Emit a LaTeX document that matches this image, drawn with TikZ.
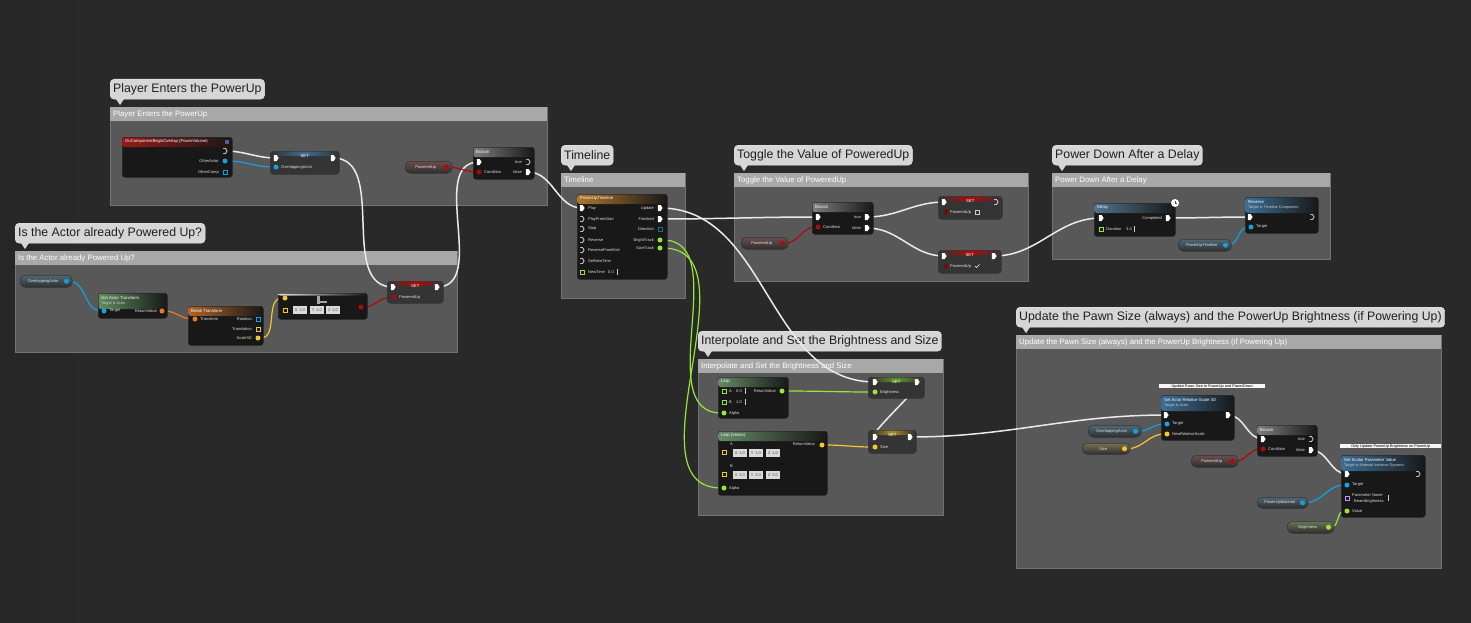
\documentclass[tikz,border=0pt]{standalone}
\usepackage{fontspec}
\setmainfont{Liberation Sans}
\usetikzlibrary{calc}
\pgfdeclarelayer{back}\pgfdeclarelayer{wire}
\pgfsetlayers{back,wire,main}
\definecolor{bgc}{RGB}{41,41,41}
\definecolor{grpbody}{RGB}{88,88,88}
\definecolor{grphead}{RGB}{168,168,168}
\definecolor{bubblec}{RGB}{214,214,214}
\definecolor{nodebody}{RGB}{24,24,24}
\definecolor{setbody}{RGB}{52,52,52}
\definecolor{pilltop}{RGB}{92,92,92}
\definecolor{pillbot}{RGB}{46,46,46}
\definecolor{pblue}{RGB}{20,160,225}
\definecolor{pred}{RGB}{175,10,10}
\definecolor{porange}{RGB}{235,120,35}
\definecolor{pyellow}{RGB}{245,200,40}
\definecolor{pgreen}{RGB}{150,230,60}
\definecolor{ppurple}{RGB}{190,150,255}
\definecolor{pteal}{RGB}{20,120,130}
\definecolor{hred}{RGB}{150,25,25}
\definecolor{hblue}{RGB}{60,110,150}
\definecolor{hgrey}{RGB}{125,125,125}
\definecolor{hgreen}{RGB}{95,140,95}
\definecolor{horange}{RGB}{175,100,40}
\definecolor{htl}{RGB}{175,118,45}
\definecolor{boxc}{RGB}{218,218,218}
\definecolor{wirec}{RGB}{235,235,235}
\newcounter{lbc}
\tikzset{
  bubble/.style={fill=bubblec, draw=white!85!gray, rounded corners=4pt, text=black!88, anchor=north west,
    font=\fontsize{12.3}{14}\selectfont, inner xsep=3pt, inner ysep=0pt, minimum height=20pt},
  grpbox/.style={fill=grpbody, draw=black!55, line width=0.6pt, anchor=north west, inner sep=0},
  grptxt/.style={font=\fontsize{7.8}{9}\selectfont, text=white, anchor=west, inner sep=0},
  bpnode/.style={draw=black!85, fill=nodebody, rounded corners=2.5pt, anchor=north west, inner sep=0, line width=0.5pt},
  setnode/.style={draw=black!80, fill=setbody, rounded corners=3pt, anchor=north west, inner sep=0, line width=0.5pt},
  getn/.style={draw=black!80, rounded corners=5pt, anchor=north west, inner sep=0, line width=0.5pt},
  ttl/.style={font=\fontsize{4.2}{5}\selectfont, text=white, inner sep=0},
  sub/.style={font=\fontsize{3.8}{4.5}\selectfont, text=white!60!gray, inner sep=0, anchor=west},
  ptxt/.style={font=\fontsize{4}{5}\selectfont, text=white!88!black, inner sep=0},
  dpinf/.style={circle, inner sep=0, minimum size=5pt},
  dpinho/.style={rectangle, draw, line width=0.6pt, inner sep=0, minimum size=3.6pt, fill=none},
  vbox/.style={fill=boxc, text=black!70, font=\fontsize{4}{5}\selectfont, inner sep=0, minimum width=13.5pt, minimum height=7.5pt, anchor=west},
  cstrip/.style={fill=white!92!gray, text=black, font=\fontsize{3.8}{4.5}\selectfont, inner xsep=1pt, inner ysep=0.6pt, anchor=north west, align=left, text depth=0pt},
  xw/.style={draw=wirec, line width=1.5pt, out=0, in=180},
  dw/.style={draw=#1, line width=1.2pt, out=0, in=180},
  pics/xpf/.style={code={\fill[white] (-2.2,-3) -- (0.6,-3) -- (2.6,0) -- (0.6,3) -- (-2.2,3) -- cycle;}},
  pics/xph/.style={code={\draw[white, line width=0.6pt, line join=round] (-1.8,-2.6) -- (0.4,-2.6) -- (2.2,0) -- (0.4,2.6) -- (-1.8,2.6);}}
}
\newcommand\xpf[3]{\coordinate (#1) at (#2,#3); \pic at (#1) {xpf};}
\newcommand\xph[3]{\coordinate (#1) at (#2,#3); \pic at (#1) {xph};}
\newcommand\dpin[4]{\node[dpinf, fill=#4] (#1) at (#2,#3) {};}
\newcommand\dpinh[4]{\node[dpinho, draw=#4] (#1) at (#2,#3) {};}
\newcommand\lbl[4][west]{\stepcounter{lbc}\node[ptxt, anchor=#1] (lb\arabic{lbc}) at (#2,#3) {#4};}
\newcommand\vb[4]{\node[vbox] (#1) at (#2,#3) {#4};}
\newcommand\cur[2]{\draw[white!80!black, line width=0.4pt] (#1,#2-3) -- (#1,#2+3);}
\newcommand\grp[6]{%
  \node[bubble] (#1-b) at (#2,#3-28) {#6};
  \fill[bubblec] ([xshift=6pt,yshift=0.3pt]#1-b.south west) -- ++(8,0) -- ++(-4,6) -- cycle;
  \node[grpbox, minimum width={#4-#2}, minimum height={#5-#3}] (#1) at (#2,#3) {};
  \fill[grphead] ([xshift=0.3pt,yshift=-0.3pt]#1.north west) rectangle ([xshift=-0.3pt,yshift=-14pt]#1.north east);
  \node[grptxt] (#1-h) at ([xshift=3pt,yshift=-7pt]#1.north west) {#6};
}
\newcommand\bpn[8][10]{%
  \node[bpnode, minimum width={#5-#3}, minimum height={#6-#4}] (#2) at (#3,#4) {};
  \shade[left color=#7, right color=nodebody, rounded corners=2pt] ([xshift=0.6pt,yshift=-0.6pt]#2.north west) rectangle ([xshift=-0.6pt,yshift=-#1pt]#2.north east);
  \node[ttl, anchor=west] (#2-t) at ([xshift=3pt,yshift=-4.8pt]#2.north west) {#8};
}
\newcommand\setn[6]{%
  \node[setnode, minimum width={#4-#2}, minimum height={#5-#3}] (#1) at (#2,#3) {};
  \shade[left color=setbody, right color=setbody, middle color=#6, rounded corners=1.5pt] ([xshift=2pt,yshift=-0.6pt]#1.north west) rectangle ([xshift=-2pt,yshift=-5pt]#1.north east);
  \node[ttl] (#1-t) at ([yshift=-5.5pt]#1.north) {SET};
}
\newcommand\getv[8]{%
  \node[getn, minimum width={#4-#2}, minimum height={#5-#3}, top color=#6!18!pilltop, bottom color=pillbot] (#1) at (#2,#3) {};
  \node[ptxt] (#1-t) at ($(#1.center)+(-3,0)$) {#7};
  \node[dpinf, fill=#8] (#1-p) at ([xshift=-6pt]#1.east) {};
}
\begin{document}
\begin{tikzpicture}[x=1pt,y=-1pt]
\useasboundingbox (0,0) rectangle (1471,623);
\begin{pgfonlayer}{back}
\fill[bgc] (0,0) rectangle (1471,623);
\shade[left color=black!85!white, right color=bgc] (0,0) rectangle (90,623);
\grp{g1}{110}{107}{547}{205}{Player Enters the PowerUp}
\grp{g2}{15}{251}{457}{352}{Is the Actor already Powered Up?}
\grp{g3}{561}{173}{685}{298}{Timeline}
\grp{g4}{734}{173}{1028}{281}{Toggle the Value of PoweredUp}
\grp{g5}{1052}{173}{1330}{259}{Power Down After a Delay}
\grp{g6}{698}{359}{943}{515}{Interpolate and Set the Brightness and Size}
\grp{g7}{1016}{335}{1441}{568}{Update the Pawn Size (always) and the PowerUp Brightness (if Powering Up)}
\end{pgfonlayer}

% ---------- group 1
\bpn{ov}{122}{137}{232}{177}{hred}{OnComponentBeginOverlap (PowerVolume)}
\node[fill=ppurple!55!black, minimum size=3.5pt, inner sep=0] (ov-i) at (227,142) {};
\xph{ov-x}{225}{151}
\dpin{ov-oa}{225}{161}{pblue}\lbl[east]{219}{161}{OtherActor}
\dpinh{ov-oc}{225}{172}{pblue}\lbl[east]{219}{172}{OtherComp}
\setn{s1}{270}{151}{339}{174}{hblue}
\xpf{s1-i}{276}{158}\xpf{s1-o}{333}{158}
\dpin{s1-p}{276}{167}{pblue}\lbl{281}{167}{OverlappingActor}
\getv{g1pu}{405}{161}{452}{173}{pred}{PoweredUp}{pred}
\bpn{br1}{473}{147}{534}{179}{hgrey}{Branch}
\xpf{br1-i}{479}{162}\dpin{br1-c}{479}{172}{pred}\lbl{484}{172}{Condition}
\xph{br1-t}{528}{162}\lbl[east]{522}{162}{true}
\xpf{br1-f}{528}{172}\lbl[east]{522}{172}{false}

% ---------- group 2
\getv{g2oa}{20}{275}{72}{287}{pblue}{OverlappingActor}{pblue}
\bpn[16]{gat}{98}{293}{167}{318}{hgreen}{Get Actor Transform}
\node[sub] (gat-s) at ([xshift=3pt,yshift=-10.5pt]gat.north west) {Target is Actor};
\dpin{gat-t}{104}{311}{pblue}\lbl{109}{311}{Target}
\dpin{gat-r}{162}{311}{porange}\lbl[east]{157}{311}{ReturnValue}
\bpn{bt}{188}{306}{263}{345}{horange}{Break Transform}
\dpin{bt-t}{195}{319}{porange}\lbl{200}{319}{Transform}
\dpinh{bt-r}{258}{319}{pblue}\lbl[east]{252}{319}{Rotation}
\dpinh{bt-l}{258}{329}{pyellow}\lbl[east]{252}{329}{Translation}
\dpin{bt-s}{258}{338}{pyellow}\lbl[east]{252}{338}{Scale3D}
\bpn[2.5]{eq}{278}{293}{367}{319}{white!75!gray}{}
\fill[gray!70] (317,296) rectangle (320,304);
\fill[gray!70] (320,301) rectangle (327,303);
\dpin{eq-a}{285}{298}{pyellow}
\dpinh{eq-b}{285}{310}{pyellow}
\vb{eq-x}{293}{310}{X\, 1.0}\vb{eq-y}{310}{310}{Y\, 1.0}\vb{eq-z}{326}{310}{Z\, 1.0}
\dpin{eq-o}{361}{307}{pred}
\setn{s2}{387}{281}{443}{303}{pred}
\xpf{s2-i}{393}{287}\xpf{s2-o}{437}{287}
\dpin{s2-p}{394}{297}{pred}\lbl{399}{297}{PoweredUp}

% ---------- timeline
\bpn{tl}{577}{194}{667}{279}{htl}{PowerUpTimeline}
\xpf{tl-play}{582}{208}\lbl{588}{208}{Play}
\xph{tl-pfs}{582}{219}\lbl{588}{219}{PlayFromStart}
\xph{tl-stop}{582}{229}\lbl{588}{229}{Stop}
\xph{tl-rev}{582}{240}\lbl{588}{240}{Reverse}
\xph{tl-rfe}{582}{250}\lbl{588}{250}{ReverseFromEnd}
\xph{tl-snt}{582}{261}\lbl{588}{261}{SetNewTime}
\dpinh{tl-nt}{582}{272}{pgreen}\lbl{588}{272}{NewTime}\lbl{608}{272}{0.0}\cur{617}{272}
\xpf{tl-up}{660}{208}\lbl[east]{654}{208}{Update}
\xpf{tl-fin}{660}{219}\lbl[east]{654}{219}{Finished}
\dpinh{tl-dir}{660}{229}{pteal}\lbl[east]{654}{229}{Direction}
\dpin{tl-bt}{660}{240}{pgreen}\lbl[east]{654}{240}{BrightTrack}
\dpin{tl-st}{660}{248}{pgreen}\lbl[east]{654}{248}{SizeTrack}

% ---------- toggle
\bpn{br2}{812}{202}{873}{234}{hgrey}{Branch}
\xpf{br2-i}{818}{217}\dpin{br2-c}{818}{227}{pred}\lbl{823}{227}{Condition}
\xpf{br2-t}{867}{217}\lbl[east]{861}{217}{true}
\xpf{br2-f}{867}{228}\lbl[east]{861}{228}{false}
\getv{g4pu}{741}{237}{788}{249}{pred}{PoweredUp}{pred}
\setn{s3}{938}{196}{1002}{219}{pred}
\xpf{s3-i}{944}{202}\xph{s3-o}{996}{202}
\dpin{s3-p}{946}{212}{pred!70!black}\lbl{950}{212}{PoweredUp}
\node[draw=white!60!gray, line width=0.4pt, minimum size=3.5pt, inner sep=0] (s3-cb) at (977,212) {};
\setn{s4}{938}{250}{1001}{273}{pred}
\xpf{s4-i}{944}{256}\xpf{s4-o}{994}{256}
\dpin{s4-p}{946}{266}{pred!70!black}\lbl{950}{266}{PoweredUp}
\draw[white!80, line width=0.5pt] (975,266) -- (976.5,267.5) -- (979.5,264.3);

% ---------- power down
\bpn{dl}{1094}{203}{1175}{236}{hblue!70!gray}{Delay}
\xpf{dl-i}{1101}{218}\xpf{dl-o}{1168}{218}\lbl[east]{1162}{218}{Completed}
\dpinh{dl-d}{1101}{229}{pgreen}\lbl{1106}{229}{Duration}\lbl{1126}{229}{3.0}\cur{1134}{229}
\node[circle, fill=white, minimum size=8pt, inner sep=0] (dl-clk) at (1175,203) {};
\draw[black!70, line width=0.4pt] (dl-clk.center) -- ++(0,-2.5) (dl-clk.center) -- ++(2,0);
\bpn[16]{rv}{1245}{197}{1318}{233}{hblue}{Reverse}
\node[sub] (rv-s) at ([xshift=3pt,yshift=-10.5pt]rv.north west) {Target is Timeline Component};
\xpf{rv-i}{1250}{217}\xph{rv-o}{1312}{217}
\dpin{rv-t}{1251}{227}{pblue}\lbl{1256}{227}{Target}
\getv{g5tl}{1178}{239}{1231}{251}{pblue}{PowerUpTimeline}{pblue}

% ---------- interpolate
\bpn{lp}{718}{377}{788}{418}{hgreen!80!gray}{Lerp}
\dpinh{lp-a}{724}{391}{pgreen}\lbl{729}{391}{A}\lbl{736}{391}{0.0}\cur{745}{391}
\dpinh{lp-b}{724}{402}{pgreen}\lbl{729}{402}{B}\lbl{736}{402}{1.0}\cur{745}{402}
\dpin{lp-al}{724}{413}{pgreen}\lbl{729}{413}{Alpha}
\dpin{lp-r}{782}{391}{pgreen}\lbl[east]{776}{391}{ReturnValue}
\bpn{lv}{718}{431}{827}{495}{hgreen!80!gray}{Lerp (Vector)}
\lbl{730}{444}{A}
\dpinh{lv-a}{724}{452}{pyellow}
\vb{lv-ax}{733}{453}{X\, 1.0}\vb{lv-ay}{749}{453}{Y\, 1.0}\vb{lv-az}{766}{453}{Z\, 1.0}
\lbl{730}{466}{B}
\dpinh{lv-b}{724}{474}{pyellow}
\vb{lv-bx}{733}{475}{X\, 2.0}\vb{lv-by}{749}{475}{Y\, 2.0}\vb{lv-bz}{766}{475}{Z\, 2.0}
\dpin{lv-al}{724}{488}{pgreen}\lbl{729}{488}{Alpha}
\dpin{lv-r}{822}{445}{pyellow}\lbl[east]{815}{444}{ReturnValue}
\setn{s5}{868}{377}{924}{398}{pgreen!65!black}
\xpf{s5-i}{875}{382}\xpf{s5-o}{917}{382}
\dpin{s5-p}{875}{392}{pgreen}\lbl{880}{392}{Brightness}
\setn{s6}{868}{430}{916}{453}{pyellow!70!black}
\xpf{s6-i}{875}{437}\xpf{s6-o}{910}{437}
\dpin{s6-p}{875}{447}{pyellow}\lbl{880}{447}{Size}

% ---------- update
\node[cstrip, minimum width=106pt] (c1) at (1159,384) {Update Pawn Size to PowerUp and PowerDown};
\bpn[16]{sa}{1161}{395}{1234}{440}{hblue}{Set Actor Relative Scale 3D}
\node[sub] (sa-s) at ([xshift=3pt,yshift=-10.5pt]sa.north west) {Target is Actor};
\xpf{sa-i}{1166}{415}\xpf{sa-o}{1228}{415}
\dpin{sa-t}{1167}{424}{pblue}\lbl{1172}{424}{Target}
\dpin{sa-n}{1167}{434}{pyellow}\lbl{1172}{434}{NewRelativeScale}
\getv{g7oa}{1088}{425}{1141}{437}{pblue}{OverlappingActor}{pblue}
\getv{g7sz}{1082}{443}{1130}{454}{pyellow}{Size}{pyellow}
\getv{g7pu}{1191}{455}{1238}{467}{pred}{PoweredUp}{pred}
\bpn{br3}{1257}{425}{1317}{456}{hgrey}{Branch}
\xpf{br3-i}{1263}{439}\dpin{br3-c}{1263}{449}{pred}\lbl{1268}{449}{Condition}
\xph{br3-t}{1311}{439}\lbl[east]{1305}{439}{true}
\xpf{br3-f}{1311}{450}\lbl[east]{1305}{450}{false}
\node[cstrip, minimum width=101pt] (c2) at (1340,444) {Only Update PowerUp Brightness on PowerUp};
\bpn[16]{sp}{1341}{455}{1425}{517}{hblue}{Set Scalar Parameter Value}
\node[sub] (sp-s) at ([xshift=3pt,yshift=-10.5pt]sp.north west) {Target is Material Instance Dynamic};
\xpf{sp-i}{1347}{474}\xph{sp-o}{1418}{474}
\dpin{sp-t}{1347}{485}{pblue}\lbl{1352}{485}{Target}
\dpinh{sp-pn}{1347}{498}{ppurple}\lbl{1352}{495}{Parameter Name}\lbl{1354}{501}{BeamBrightness}\cur{1388}{498}
\dpin{sp-v}{1347}{511}{pgreen}\lbl{1352}{511}{Value}
\getv{g7pm}{1257}{497}{1308}{508}{pblue}{PowerUpMaterial}{pblue}
\getv{g7br}{1287}{521}{1334}{533}{pgreen}{Brightness}{pgreen}

% ---------- wires
\begin{pgfonlayer}{wire}
\draw[xw] (ov-x) to (s1-i);
\draw[xw] (s1-o) to (s2-i);
\draw[xw] (s2-o) to (br1-i);
\draw[xw] (br1-f) to (tl-play);
\draw[xw] (tl-up) to (s5-i);
\draw[xw] (tl-fin) to (br2-i);
\draw[xw] (br2-t) to (s3-i);
\draw[xw] (br2-f) to (s4-i);
\draw[xw] (s4-o) to (dl-i);
\draw[xw] (dl-o) to (rv-i);
\draw[xw, looseness=0.4] (s5-o) to (s6-i);
\draw[xw] (s6-o) to (sa-i);
\draw[xw] (sa-o) to (br3-i);
\draw[xw] (br3-f) to (sp-i);
\draw[dw=pblue] (ov-oa) to (s1-p);
\draw[dw=pblue] (g2oa-p) to (gat-t);
\draw[dw=pblue] (g5tl-p) to (rv-t);
\draw[dw=pblue] (g7oa-p) to (sa-t);
\draw[dw=pblue] (g7pm-p) to (sp-t);
\draw[dw=pred] (g1pu-p) to (br1-c);
\draw[dw=pred] (eq-o) to (s2-p);
\draw[dw=pred] (g4pu-p) to (br2-c);
\draw[dw=pred] (g7pu-p) to (br3-c);
\draw[dw=porange] (gat-r) to (bt-t);
\draw[dw=pyellow] (bt-s) to (eq-a);
\draw[dw=pyellow] (lv-r) to (s6-p);
\draw[dw=pyellow] (g7sz-p) to (sa-n);
\draw[dw=pgreen] (tl-bt) to (lp-al);
\draw[dw=pgreen] (tl-st) to (lv-al);
\draw[dw=pgreen] (lp-r) to (s5-p);
\draw[dw=pgreen] (g7br-p) to (sp-v);
\end{pgfonlayer}
\end{tikzpicture}
\end{document}
